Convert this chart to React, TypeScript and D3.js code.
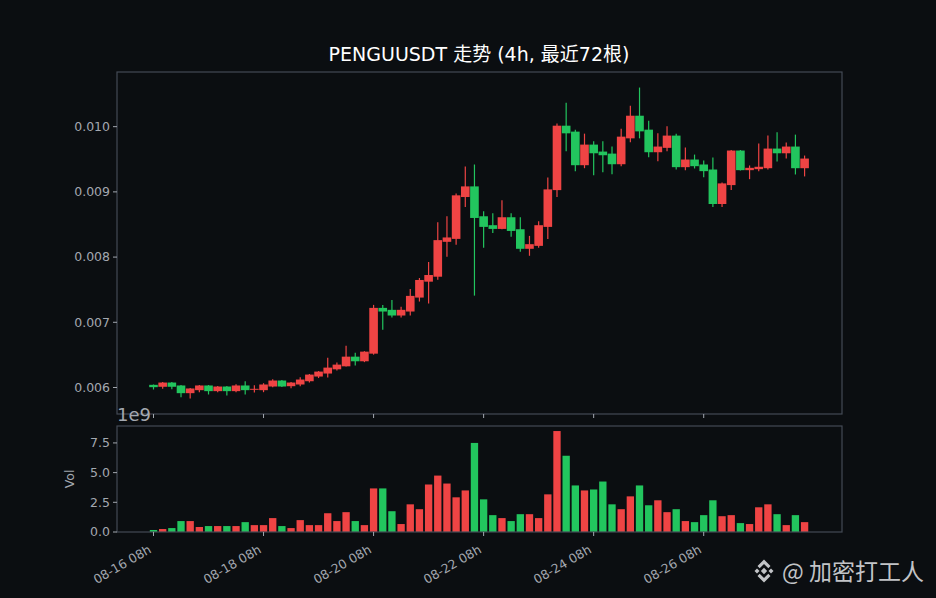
import * as d3 from "d3";
import React from "react";

// first candle opens 08-16 08h, one candle every 4 hours
const startTime = new Date(2025, 7, 16, 8);

const opens = [
  0.006041, 0.006011, 0.006076, 0.006031, 0.005913, 0.005959, 0.006031, 0.005944, 0.006015, 0.005944,
  0.006031, 0.005965, 0.005959, 0.006015, 0.006107, 0.00602, 0.006046, 0.006096, 0.006168, 0.006214,
  0.006279, 0.006325, 0.006473, 0.006402, 0.006519, 0.007221, 0.007191, 0.007104, 0.007165, 0.007379,
  0.007623, 0.007699, 0.008234, 0.008279, 0.008921, 0.009084, 0.008626, 0.008489, 0.008432, 0.008611,
  0.008427, 0.008127, 0.008172, 0.008463, 0.009027, 0.010015, 0.009924, 0.009409, 0.009725, 0.009618,
  0.009587, 0.009424, 0.009821, 0.010168, 0.009954, 0.009608, 0.009675, 0.009863, 0.009379, 0.009496,
  0.00942, 0.009343, 0.008814, 0.009104, 0.009634, 0.009333, 0.009348, 0.009363, 0.009664, 0.009592,
  0.009695, 0.009363,
];
const highs = [
  0.006046, 0.006084, 0.006084, 0.006038, 0.005992, 0.006038, 0.006038, 0.006023, 0.006023, 0.00605,
  0.006096, 0.006035, 0.006066, 0.006127, 0.006115, 0.006084, 0.006157, 0.006206, 0.006252, 0.006458,
  0.006382, 0.006641, 0.006534, 0.006557, 0.007267, 0.007267, 0.007343, 0.007237, 0.007511, 0.007679,
  0.007924, 0.008534, 0.008626, 0.008977, 0.009389, 0.00942, 0.008702, 0.008672, 0.00887, 0.008672,
  0.008611, 0.008325, 0.00855, 0.009221, 0.01005, 0.010366, 0.009954, 0.009893, 0.009776, 0.009776,
  0.009695, 0.009969, 0.010321, 0.0106, 0.010092, 0.009898, 0.010005, 0.009893, 0.009679, 0.009572,
  0.009481, 0.009527, 0.009145, 0.009641, 0.009641, 0.009405, 0.00974, 0.009863, 0.009913, 0.009756,
  0.009878, 0.009557,
];
const lows = [
  0.005969, 0.00598, 0.005974, 0.005852, 0.005832, 0.005928, 0.005893, 0.005928, 0.005878, 0.005928,
  0.005893, 0.005924, 0.005928, 0.006005, 0.006008, 0.005989, 0.00602, 0.006076, 0.006145, 0.006153,
  0.00626, 0.006321, 0.006336, 0.006389, 0.006504, 0.006885, 0.007073, 0.007073, 0.007104, 0.007318,
  0.007287, 0.007653, 0.008005, 0.008188, 0.008768, 0.007409, 0.008142, 0.008371, 0.008427, 0.00831,
  0.008081, 0.00802, 0.008142, 0.008279, 0.008921, 0.009623, 0.009317, 0.009363, 0.009256, 0.009302,
  0.009272, 0.009394, 0.00976, 0.009821, 0.009531, 0.00947, 0.009623, 0.009343, 0.009333, 0.009359,
  0.009226, 0.008768, 0.008768, 0.009027, 0.009328, 0.009195, 0.009317, 0.009343, 0.009466, 0.009511,
  0.009267, 0.009237,
];
const closes = [
  0.006005, 0.006076, 0.006011, 0.005913, 0.005985, 0.006031, 0.005944, 0.006015, 0.005944, 0.006031,
  0.005959, 0.00598, 0.006046, 0.006107, 0.006015, 0.006076, 0.006122, 0.006198, 0.006244, 0.006305,
  0.006351, 0.006473, 0.006402, 0.00655, 0.007221, 0.007165, 0.007104, 0.007191, 0.007405, 0.007649,
  0.007725, 0.00826, 0.008301, 0.008947, 0.009084, 0.0086, 0.008463, 0.008432, 0.008611, 0.008401,
  0.008127, 0.008198, 0.008489, 0.009038, 0.010015, 0.009898, 0.009409, 0.009725, 0.009592, 0.009562,
  0.009424, 0.009847, 0.010168, 0.009928, 0.009608, 0.009695, 0.009863, 0.009379, 0.009496, 0.009394,
  0.009318, 0.008814, 0.00913, 0.009634, 0.009333, 0.009369, 0.009385, 0.009664, 0.009592, 0.009695,
  0.009363, 0.009511,
];
// volume in units of 1e9
const volumes = [
  0.17, 0.25, 0.33, 0.92, 0.92, 0.42, 0.5, 0.5, 0.5, 0.5,
  0.83, 0.58, 0.58, 1.17, 0.5, 0.33, 1.0, 0.58, 0.58, 1.58,
  0.92, 1.67, 0.92, 0.58, 3.67, 3.67, 1.75, 0.67, 2.33, 1.92,
  4.0, 4.75, 4.08, 2.92, 3.5, 7.5, 2.75, 1.42, 1.17, 0.92,
  1.5, 1.5, 1.17, 3.17, 8.5, 6.42, 3.92, 3.5, 3.58, 4.25,
  2.33, 1.92, 3.0, 3.92, 2.25, 2.67, 1.67, 1.92, 0.92, 0.83,
  1.42, 2.67, 1.33, 1.42, 0.75, 0.67, 2.08, 2.33, 1.5, 0.58,
  1.42, 0.83,
];
const priceTicks = [0.006, 0.007, 0.008, 0.009, 0.01];
const volTicks = [0, 2.5, 5, 7.5];
const dateTickIdx = [0, 12, 24, 36, 48, 60];

const W = 936;
const H = 598;
const left = 117;
const right = 842;
const priceTop = 72;
const priceBottom = 414;
const volTop = 426;
const volBottom = 532;

const BG = "#0b0e11";
const UP = "#ef4444";
const DOWN = "#22c55e";
const FRAME = "#434a55";
const TXT = "#a3a8b0";
const FONT = "'DejaVu Sans', 'Noto Sans CJK SC', sans-serif";

export default function App() {
  const n = closes.length;
  const x = d3.scaleLinear().domain([-3.98, n - 1 + 4.08]).range([left, right]);
  const step = x(1) - x(0);

  const lo = d3.min(lows)!;
  const hi = d3.max(highs)!;
  const pad = (hi - lo) * 0.05;
  const y = d3.scaleLinear().domain([lo - pad, hi + pad]).range([priceBottom, priceTop]);
  const yv = d3
    .scaleLinear()
    .domain([0, d3.max(volumes)! * 1.05])
    .range([volBottom, volTop]);

  const fmtDate = d3.timeFormat("%m-%d %Hh");
  const dateOf = (i: number) => d3.timeHour.offset(startTime, 4 * i);
  const idx = d3.range(n);

  return (
    <svg
      width={W}
      height={H}
      style={{ position: "fixed", left: 0, top: 0, fontFamily: FONT }}
    >
      <rect width={W} height={H} fill={BG} />
      <text x={479} y={61} textAnchor="middle" fill="#ffffff" fontSize={19}>
        PENGUUSDT 走势 (4h, 最近72根)
      </text>

      {/* candles */}
      <g>
        {idx.map((i) => {
          const up = closes[i] >= opens[i];
          const c = up ? UP : DOWN;
          const yTop = y(Math.max(opens[i], closes[i]));
          const yBot = y(Math.min(opens[i], closes[i]));
          return (
            <g key={i}>
              <line
                x1={x(i)}
                x2={x(i)}
                y1={y(highs[i])}
                y2={y(lows[i])}
                stroke={c}
                strokeWidth={1.2}
              />
              <rect
                x={x(i) - step * 0.47}
                width={step * 0.94}
                y={yTop}
                height={Math.max(yBot - yTop, 1)}
                fill={c}
              />
            </g>
          );
        })}
      </g>

      {/* volume */}
      <g>
        {idx.map((i) => (
          <rect
            key={i}
            x={x(i) - step * 0.4}
            width={step * 0.8}
            y={yv(volumes[i])}
            height={yv(0) - yv(volumes[i])}
            fill={closes[i] >= opens[i] ? UP : DOWN}
          />
        ))}
      </g>

      {/* frames */}
      <rect x={left} y={priceTop} width={right - left} height={priceBottom - priceTop} fill="none" stroke={FRAME} strokeWidth={1.2} />
      <rect x={left} y={volTop} width={right - left} height={volBottom - volTop} fill="none" stroke={FRAME} strokeWidth={1.2} />

      {/* price y axis */}
      {priceTicks.map((t) => (
        <g key={t} transform={`translate(${left},${y(t)})`}>
          <line x1={-4} x2={0} stroke={TXT} strokeWidth={1} />
          <text x={-7} dy="0.35em" textAnchor="end" fill={TXT} fontSize={12.5}>
            {d3.format(".3f")(t)}
          </text>
        </g>
      ))}

      {/* volume y axis */}
      {volTicks.map((t) => (
        <g key={t} transform={`translate(${left},${yv(t)})`}>
          <line x1={-4} x2={0} stroke={TXT} strokeWidth={1} />
          <text x={-7} dy="0.35em" textAnchor="end" fill={TXT} fontSize={12.5}>
            {d3.format(".1f")(t)}
          </text>
        </g>
      ))}
      <text x={left} y={421} fill={TXT} fontSize={18}>
        1e9
      </text>
      <text
        transform={`translate(74,${(volTop + volBottom) / 2}) rotate(-90)`}
        textAnchor="middle"
        fill={TXT}
        fontSize={12.5}
      >
        Vol
      </text>

      {/* x ticks */}
      {dateTickIdx.map((i) => (
        <g key={i}>
          <line x1={x(i)} x2={x(i)} y1={priceBottom} y2={priceBottom + 4} stroke={TXT} strokeWidth={1} />
          <line x1={x(i)} x2={x(i)} y1={volBottom} y2={volBottom + 4} stroke={TXT} strokeWidth={1} />
          <text
            transform={`translate(${x(i) - 6},${volBottom + 12}) rotate(-30)`}
            textAnchor="end"
            dy="0.75em"
            fill={TXT}
            fontSize={12.5}
          >
            {fmtDate(dateOf(i))}
          </text>
        </g>
      ))}

      {/* watermark */}
      <g fill="#d6d8db" opacity={0.9}>
        <g transform="translate(764,571)">
          <path d="M0,-3.2 L3.2,0 L0,3.2 L-3.2,0 Z" />
          <path d="M-9.5,0 L-7,-2.5 L-4.5,0 L-7,2.5 Z" />
          <path d="M9.5,0 L7,-2.5 L4.5,0 L7,2.5 Z" />
          <path d="M0,-11.5 L6.5,-5 L4.3,-2.8 L0,-7.1 L-4.3,-2.8 L-6.5,-5 Z" />
          <path d="M0,11.5 L6.5,5 L4.3,2.8 L0,7.1 L-4.3,2.8 L-6.5,5 Z" />
        </g>
        <text x={782} y={580} fontSize={23} fontFamily="'Noto Sans CJK SC', sans-serif">
          @ 加密打工人
        </text>
      </g>
    </svg>
  );
}
